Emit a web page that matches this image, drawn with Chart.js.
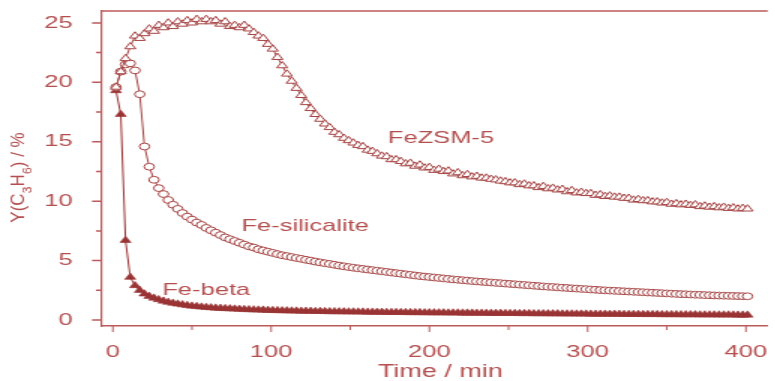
<!DOCTYPE html>
<html>
<head>
<meta charset="utf-8">
<script src="https://cdn.jsdelivr.net/npm/chart.js@4.4.1/dist/chart.umd.min.js"></script>
<style>
  html, body { margin: 0; padding: 0; background: #fff; overflow: hidden; }
  #wrap { width: 775px; height: 381px; overflow: hidden; }
  /* the source figure is stretched sideways, so the canvas is too */
  #c { display: block; transform: scaleX(1.5); transform-origin: 0 0; }
</style>
</head>
<body>
<div id="wrap"><canvas id="c" width="517" height="381"></canvas></div>
<script>
// DATA
const timeMin = [
  2, 5, 8, 11, 14, 17, 20, 23, 26, 29,
  32, 35, 38, 41, 44, 47, 50, 53, 56, 59,
  62, 65, 68, 71, 74, 77, 80, 83, 86, 89,
  92, 95, 98, 101, 104, 107, 110, 113, 116, 119,
  122, 125, 128, 131, 134, 137, 140, 143, 146, 149,
  152, 155, 158, 161, 164, 167, 170, 173, 176, 179,
  182, 185, 188, 191, 194, 197, 200, 203, 206, 209,
  212, 215, 218, 221, 224, 227, 230, 233, 236, 239,
  242, 245, 248, 251, 254, 257, 260, 263, 266, 269,
  272, 275, 278, 281, 284, 287, 290, 293, 296, 299,
  302, 305, 308, 311, 314, 317, 320, 323, 326, 329,
  332, 335, 338, 341, 344, 347, 350, 353, 356, 359,
  362, 365, 368, 371, 374, 377, 380, 383, 386, 389,
  392, 395, 398, 401
];

const feZSM5 = [
  19.6, 20.9, 22.0, 23.0, 23.9, 23.7, 24.1, 24.5, 24.3, 24.8,
  24.6, 25.0, 24.7, 25.1, 24.9, 25.2, 25.0, 25.3, 25.1, 25.3,
  25.1, 25.2, 24.9, 25.1, 24.7, 24.8, 24.6, 24.8, 24.5, 24.2,
  23.9, 23.7, 23.2, 22.8, 22.1, 21.4, 20.7, 20.1, 19.5, 18.9,
  18.3, 17.8, 17.3, 16.9, 16.5, 16.2, 15.8, 15.6, 15.3, 15.1,
  14.9, 14.7, 14.6, 14.3, 14.2, 14.0, 13.8, 13.75, 13.5, 13.5,
  13.35, 13.15, 13.2, 12.95, 13.05, 12.8, 12.85, 12.6, 12.7, 12.5,
  12.55, 12.3, 12.4, 12.15, 12.25, 12.05, 12.1, 11.95, 11.95, 11.85,
  11.8, 11.7, 11.65, 11.55, 11.55, 11.4, 11.45, 11.3, 11.3, 11.15,
  11.25, 11.05, 11.1, 10.95, 11.0, 10.8, 10.9, 10.7, 10.75, 10.65,
  10.65, 10.5, 10.55, 10.4, 10.45, 10.35, 10.35, 10.25, 10.25, 10.1,
  10.15, 10.05, 10.05, 9.95, 9.95, 9.85, 9.9, 9.75, 9.8, 9.7,
  9.75, 9.65, 9.7, 9.55, 9.6, 9.5, 9.55, 9.45, 9.5, 9.4,
  9.45, 9.35, 9.4, 9.35
];

const feSilicalite = [
  19.6, 20.9, 21.5, 21.6, 21.0, 19.0, 14.6, 12.9, 11.8, 11.1,
  10.6, 10.1, 9.7, 9.35, 9.0, 8.7, 8.45, 8.2, 8.0, 7.75,
  7.55, 7.35, 7.15, 6.95, 6.8, 6.65, 6.5, 6.35, 6.2, 6.1,
  5.95, 5.85, 5.75, 5.65, 5.55, 5.45, 5.38, 5.3, 5.22, 5.15,
  5.07, 5.0, 4.92, 4.85, 4.78, 4.72, 4.65, 4.58, 4.52, 4.46,
  4.4, 4.35, 4.3, 4.25, 4.2, 4.15, 4.1, 4.05, 4.0, 3.95,
  3.9, 3.85, 3.8, 3.75, 3.7, 3.66, 3.62, 3.58, 3.54, 3.5,
  3.46, 3.42, 3.39, 3.35, 3.32, 3.28, 3.25, 3.22, 3.19, 3.16,
  3.13, 3.1, 3.07, 3.04, 3.01, 2.98, 2.95, 2.92, 2.89, 2.86,
  2.83, 2.8, 2.78, 2.75, 2.72, 2.7, 2.67, 2.65, 2.62, 2.6,
  2.57, 2.55, 2.52, 2.5, 2.48, 2.46, 2.44, 2.42, 2.4, 2.38,
  2.36, 2.34, 2.32, 2.3, 2.28, 2.26, 2.24, 2.22, 2.2, 2.18,
  2.17, 2.15, 2.13, 2.12, 2.1, 2.09, 2.07, 2.06, 2.05, 2.04,
  2.03, 2.02, 2.01, 2.0
];

const feBeta = [
  19.3, 17.3, 6.7, 3.6, 2.9, 2.5, 2.2, 2.0, 1.85, 1.72,
  1.6, 1.5, 1.42, 1.35, 1.29, 1.23, 1.18, 1.14, 1.1, 1.07,
  1.04, 1.01, 0.99, 0.97, 0.95, 0.93, 0.91, 0.89, 0.88, 0.86,
  0.85, 0.84, 0.82, 0.81, 0.8, 0.79, 0.78, 0.77, 0.76, 0.75,
  0.75, 0.74, 0.73, 0.73, 0.72, 0.71, 0.71, 0.7, 0.7, 0.69,
  0.69, 0.68, 0.68, 0.67, 0.67, 0.66, 0.66, 0.65, 0.65, 0.65,
  0.64, 0.64, 0.63, 0.63, 0.63, 0.62, 0.62, 0.61, 0.61, 0.61,
  0.6, 0.6, 0.6, 0.59, 0.59, 0.59, 0.58, 0.58, 0.58, 0.57,
  0.57, 0.57, 0.56, 0.56, 0.56, 0.55, 0.55, 0.55, 0.54, 0.54,
  0.54, 0.53, 0.53, 0.53, 0.52, 0.52, 0.52, 0.51, 0.51, 0.51,
  0.5, 0.5, 0.5, 0.5, 0.49, 0.49, 0.49, 0.48, 0.48, 0.48,
  0.48, 0.47, 0.47, 0.47, 0.47, 0.46, 0.46, 0.46, 0.46, 0.45,
  0.45, 0.45, 0.45, 0.44, 0.44, 0.44, 0.44, 0.43, 0.43, 0.43,
  0.43, 0.42, 0.42, 0.42
];

const xMajor = [0, 100, 200, 300, 400];
const xMinor = [50, 150, 250, 350];
const yMajor = [0, 5, 10, 15, 20, 25];
const yMinor = [2.5, 7.5, 12.5, 17.5, 22.5];

// curve labels, anchored in data units (time, value)
const seriesNames = ["FeZSM-5", "Fe-silicalite", "Fe-beta"];
const nameAt = [[173.75, 15.3], [81.25, 7.9], [31.25, 2.5]];

// STYLE
const FONT = "'Liberation Sans', Arial, sans-serif";
const TEXT = "#b34f4f";
const AXIS = "#bb5a5a";
const MARK = "#a64444";
const BETA = "#9a3434";

const toPoints = (vals) => timeMin.map((t, i) => ({ x: t, y: vals[i] }));

// ticks, frame line, curve names and axis titles
const decorations = {
  id: "decorations",
  afterDraw(chart) {
    const { ctx, chartArea: a, scales: { x, y } } = chart;
    ctx.save();
    ctx.strokeStyle = AXIS;

    // top frame line
    ctx.lineWidth = 1.5;
    ctx.beginPath();
    ctx.moveTo(a.left, a.top);
    ctx.lineTo(a.right, a.top);
    ctx.stroke();

    // x ticks (outward)
    ctx.lineWidth = 1;
    ctx.beginPath();
    xMajor.forEach(v => {
      const px = x.getPixelForValue(v);
      ctx.moveTo(px, a.bottom);
      ctx.lineTo(px, a.bottom + 6);
    });
    xMinor.forEach(v => {
      const px = x.getPixelForValue(v);
      ctx.moveTo(px, a.bottom);
      ctx.lineTo(px, a.bottom + 4);
    });
    ctx.stroke();

    // y ticks (outward)
    ctx.lineWidth = 1.5;
    ctx.beginPath();
    yMajor.forEach(v => {
      const py = y.getPixelForValue(v);
      ctx.moveTo(a.left, py);
      ctx.lineTo(a.left - 6, py);
    });
    yMinor.forEach(v => {
      const py = y.getPixelForValue(v);
      ctx.moveTo(a.left, py);
      ctx.lineTo(a.left - 3.3, py);
    });
    ctx.stroke();

    // curve names
    ctx.fillStyle = TEXT;
    ctx.font = "17px " + FONT;
    ctx.textAlign = "left";
    ctx.textBaseline = "middle";
    seriesNames.forEach((name, i) => {
      ctx.fillText(name, x.getPixelForValue(nameAt[i][0]), y.getPixelForValue(nameAt[i][1]));
    });

    // x title
    ctx.font = "18px " + FONT;
    ctx.textAlign = "center";
    ctx.textBaseline = "alphabetic";
    ctx.fillText("Time / min", (a.left + a.right) / 2 + 4, 377);

    // y title with subscripts
    const parts = [["Y(C", 0], ["3", 1], ["H", 0], ["6", 1], [") / %", 0]];
    ctx.save();
    ctx.translate(12.3, 177.5);
    ctx.rotate(-Math.PI / 2);
    ctx.scale(1.41, 1);
    ctx.textAlign = "left";
    ctx.textBaseline = "middle";
    const fontFor = sub => (sub ? "9px " : "12px ") + FONT;
    let total = 0;
    parts.forEach(([s, sub]) => { ctx.font = fontFor(sub); total += ctx.measureText(s).width; });
    let cx = -total / 2;
    parts.forEach(([s, sub]) => {
      ctx.font = fontFor(sub);
      ctx.fillText(s, cx, sub ? 6.5 : 0);
      cx += ctx.measureText(s).width;
    });
    ctx.restore();

    ctx.restore();
  }
};

new Chart(document.getElementById("c"), {
  type: "line",
  data: {
    datasets: [
      {
        label: seriesNames[0],
        data: toPoints(feZSM5),
        borderColor: MARK,
        borderWidth: 1,
        pointStyle: "triangle",
        pointRadius: 4.2,
        pointBorderWidth: 1,
        pointBorderColor: MARK,
        pointBackgroundColor: "#fff",
        tension: 0,
      },
      {
        label: seriesNames[1],
        data: toPoints(feSilicalite),
        borderColor: MARK,
        borderWidth: 1,
        pointStyle: "circle",
        pointRadius: 3.4,
        pointBorderWidth: 1,
        pointBorderColor: MARK,
        pointBackgroundColor: "#fff",
        tension: 0,
      },
      {
        label: seriesNames[2],
        data: toPoints(feBeta),
        borderColor: BETA,
        borderWidth: 1,
        pointStyle: "triangle",
        pointRadius: 4.2,
        pointBorderWidth: 0.6,
        pointBorderColor: BETA,
        pointBackgroundColor: BETA,
        tension: 0,
      },
    ],
  },
  options: {
    responsive: false,
    animation: false,
    devicePixelRatio: 1,
    layout: { padding: { top: 11, right: 0, bottom: 0, left: 0 } },
    plugins: { legend: { display: false }, tooltip: { enabled: false } },
    elements: { line: { fill: false } },
    scales: {
      x: {
        type: "linear",
        min: -7.5,
        max: 413.75,
        afterBuildTicks: s => { s.ticks = xMajor.map(v => ({ value: v })); },
        afterFit: s => { s.height = 55; s.paddingLeft = 0; s.paddingRight = 0; },
        grid: { display: false },
        border: { color: AXIS, width: 1.5 },
        ticks: { color: TEXT, padding: 8, font: { family: FONT, size: 17 } },
      },
      y: {
        type: "linear",
        min: -0.5,
        max: 26,
        afterBuildTicks: s => { s.ticks = yMajor.map(v => ({ value: v })); },
        afterFit: s => { s.width = 67.33; s.paddingTop = 0; s.paddingBottom = 0; },
        grid: { display: false },
        border: { color: AXIS, width: 1.2 },
        ticks: { color: TEXT, padding: 11, font: { family: FONT, size: 17 } },
      },
    },
  },
  plugins: [decorations],
});
</script>
</body>
</html>
